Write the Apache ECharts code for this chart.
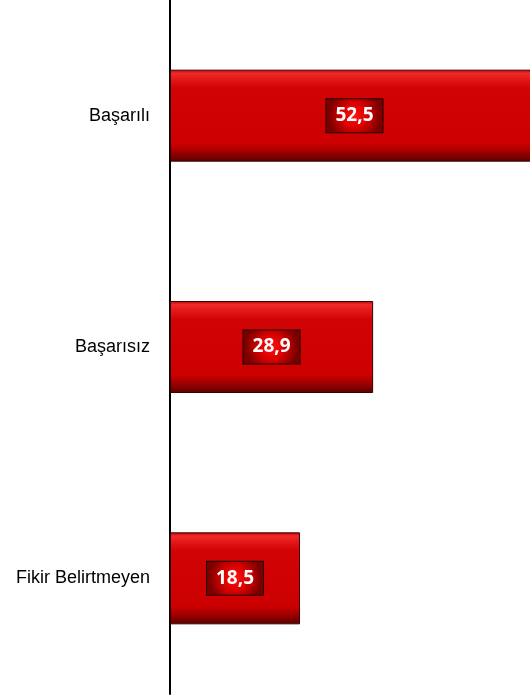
<!DOCTYPE html>
<html>
<head>
<meta charset="utf-8">
<script src="https://cdn.jsdelivr.net/npm/echarts@6/dist/echarts.min.js"></script>
<style>
  html, body { margin: 0; padding: 0; background: #fff; overflow: hidden; }
  /* the top bar runs past the right edge of the picture, so the canvas is a bit wider */
  #chart { width: 539px; height: 695px; }
</style>
</head>
<body>
<div id="chart"></div>
<script>
// kategoriler ve degerler
const categories = ['Başarılı', 'Başarısız', 'Fikir Belirtmeyen'];
const values = [52.5, 28.9, 18.5];

const chart = echarts.init(document.getElementById('chart'));

const barFill = new echarts.graphic.LinearGradient(0, 0, 0, 1, [
  { offset: 0, color: '#c00000' },
  { offset: 0.04, color: '#f02a2a' },
  { offset: 0.12, color: '#e01414' },
  { offset: 0.2, color: '#d00404' },
  { offset: 0.8, color: '#cc0000' },
  { offset: 0.88, color: '#a80000' },
  { offset: 1, color: '#5a0000' },
]);

const labelFill = new echarts.graphic.RadialGradient(0.5, 0.5, 0.75, [
  { offset: 0, color: '#ff1010' },
  { offset: 0.5, color: '#d80000' },
  { offset: 1, color: '#7a0000' },
]);

chart.setOption({
  animation: false,
  grid: {
    top: 0,
    bottom: 1,
    left: 170,
    right: 0,
    containLabel: false,
  },
  xAxis: {
    type: 'value',
    min: 0,
    max: 52.5,
    show: false,
  },
  yAxis: {
    type: 'category',
    inverse: true,
    data: categories,
    axisLine: {
      show: true,
      lineStyle: { color: '#000', width: 2 },
    },
    axisTick: { show: false },
    axisLabel: {
      fontFamily: 'Liberation Sans, Arial',
      fontSize: 18,
      color: '#000',
      margin: 20,
    },
  },
  series: [{
    type: 'bar',
    data: values,
    barWidth: 92,
    itemStyle: {
      color: barFill,
      borderColor: '#3a0000',
      borderWidth: 1,
    },
    label: {
      show: true,
      position: 'inside',
      formatter: p => String(p.value).replace('.', ','),
      fontFamily: 'Open Sans',
      fontWeight: 'bold',
      fontSize: 19,
      lineHeight: 19,
      color: '#fff',
      backgroundColor: labelFill,
      borderColor: '#200000',
      borderWidth: 1,
      padding: [7, 9, 7, 9],
    },
  }],
});
</script>
</body>
</html>
